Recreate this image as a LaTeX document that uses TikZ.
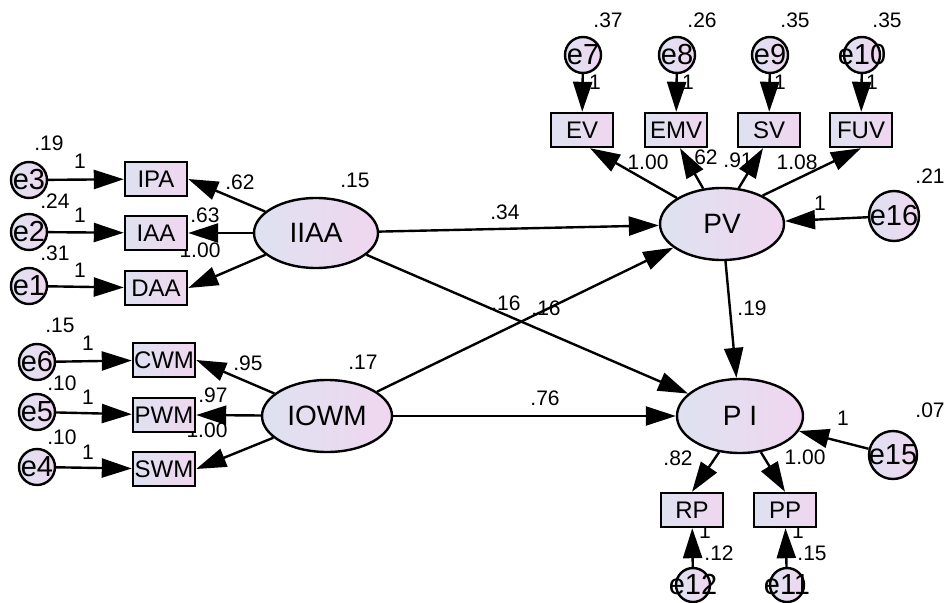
\documentclass[tikz,border=0pt]{standalone}
\usepackage{fontspec}
\setmainfont{Liberation Sans}
\usetikzlibrary{arrows.meta,shapes.geometric}
\definecolor{shL}{RGB}{222,226,240}
\definecolor{shR}{RGB}{240,214,240}
\tikzset{
  every picture/.style={x=1pt,y=-1pt},
  lnk/.style={line width=2.4pt, -{Triangle[length=30pt,width=19pt]}},
  shd/.style={left color=shL, right color=shR, draw=black, line width=2.4pt},
  latent/.style={shd, ellipse, inner sep=0pt, font=\fontsize{28}{28}\selectfont},
  obsbox/.style={shd, rectangle, inner sep=0pt, minimum width=62pt, minimum height=34pt, font=\fontsize{24}{24}\selectfont},
  lbl/.style={inner sep=0pt, font=\fontsize{21}{21}\selectfont},
}
\newcommand{\enode}[4]{\node[shd, circle, inner sep=0pt, minimum size=#4] (#1) at (#2,#3) {};\node[inner sep=0pt, font=\fontsize{29}{29}\selectfont] at (#2,#3) {#1};}
\begin{document}
\begin{tikzpicture}
\useasboundingbox[fill=white] (0,0) rectangle (944,602);
% labels first (lines drawn over)
\node[lbl] at (49,143) {.19};
\node[lbl] at (80,161) {1};
\node[lbl] at (55,201) {.24};
\node[lbl] at (80,215) {1};
\node[lbl] at (55,253) {.31};
\node[lbl] at (80,270) {1};
\node[lbl] at (240,182) {.62};
\node[lbl] at (205,215) {.63};
\node[lbl] at (200,250) {1.00};
\node[lbl] at (355,180) {.15};
\node[lbl] at (60,325) {.15};
\node[lbl] at (88,343) {1};
\node[lbl] at (62,383) {.10};
\node[lbl] at (88,397) {1};
\node[lbl] at (62,437) {.10};
\node[lbl] at (88,452) {1};
\node[lbl] at (248,363) {.95};
\node[lbl] at (213,395) {.97};
\node[lbl] at (207,430) {1.00};
\node[lbl] at (363,362) {.17};
\node[lbl] at (608,20) {.37};
\node[lbl] at (702,20) {.26};
\node[lbl] at (795,20) {.35};
\node[lbl] at (887,20) {.35};
\node[lbl] at (595,82) {1};
\node[lbl] at (688,82) {1};
\node[lbl] at (780,82) {1};
\node[lbl] at (872,82) {1};
\node[lbl] at (648,162) {1.00};
\node[lbl] at (703,157) {.62};
\node[lbl] at (738,160) {.91};
\node[lbl] at (797,162) {1.08};
\node[lbl] at (930,176) {.21};
\node[lbl] at (820,203) {1};
\node[lbl] at (752,308) {.19};
\node[lbl] at (930,410) {.07};
\node[lbl] at (843,418) {1};
\node[lbl] at (678,458) {.82};
\node[lbl] at (805,457) {1.00};
\node[lbl] at (705,531) {1};
\node[lbl] at (719,553) {.12};
\node[lbl] at (798,531) {1};
\node[lbl] at (812,553) {.15};
\node[lbl] at (505,212) {.34};
\node[lbl] at (506,303) {.16};
\node[lbl] at (546,308) {.16};
\node[lbl] at (545,398) {.76};
% latent variables
\node[latent, minimum width=124pt, minimum height=70pt] (IIAA) at (316,233) {IIAA};
\node[latent, minimum width=130pt, minimum height=72pt] (IOWM) at (327,416) {IOWM};
\node[latent, minimum width=124pt, minimum height=72pt] (PV) at (722,224) {PV};
\node[latent, minimum width=126pt, minimum height=74pt] (PI) at (740,416) {P I};
% observed
\node[obsbox] (IPA) at (156,179) {IPA};
\node[obsbox] (IAA) at (156,233) {IAA};
\node[obsbox] (DAA) at (156,288) {DAA};
\node[obsbox] (CWM) at (164,360) {CWM};
\node[obsbox] (PWM) at (164,415) {PWM};
\node[obsbox] (SWM) at (164,469) {SWM};
\node[obsbox] (EV) at (582,130) {EV};
\node[obsbox] (EMV) at (676,130) {EMV};
\node[obsbox] (SV) at (769,130) {SV};
\node[obsbox] (FUV) at (861,130) {FUV};
\node[obsbox] (RP) at (692,510) {RP};
\node[obsbox] (PP) at (785,510) {PP};
% errors
\enode{e3}{29}{180}{36pt}
\enode{e2}{29}{232}{36pt}
\enode{e1}{29}{286}{36pt}
\enode{e6}{37}{362}{36pt}
\enode{e5}{37}{412}{36pt}
\enode{e4}{37}{467}{36pt}
\enode{e7}{583}{55}{36pt}
\enode{e8}{677}{55}{36pt}
\enode{e9}{770}{55}{36pt}
\enode{e10}{862}{55}{36pt}
\enode{e16}{894}{216}{50pt}
\enode{e15}{893}{455}{48pt}
\enode{e12}{693}{585}{34pt}
\enode{e11}{787}{585}{34pt}
% connectors
\draw[lnk] (e3) -- (IPA);
\draw[lnk] (e2) -- (IAA);
\draw[lnk] (e1) -- (DAA);
\draw[lnk] (e6) -- (CWM);
\draw[lnk] (e5) -- (PWM);
\draw[lnk] (e4) -- (SWM);
\draw[lnk] (IIAA) -- (IPA.east);
\draw[lnk] (IIAA) -- (IAA.east);
\draw[lnk] (IIAA) -- (DAA.east);
\draw[lnk] (IOWM) -- (CWM.east);
\draw[lnk] (IOWM) -- (PWM.east);
\draw[lnk] (IOWM) -- (SWM.east);
\draw[lnk] (e7) -- (EV);
\draw[lnk] (e8) -- (EMV);
\draw[lnk] (e9) -- (SV);
\draw[lnk] (e10) -- (FUV);
\draw[lnk] (PV.150) -- ([xshift=8pt]EV.south);
\draw[lnk] (PV.118) -- ([xshift=4pt]EMV.south);
\draw[lnk] (PV.65) -- ([xshift=-6pt]SV.south);
\draw[lnk] (PV.35) -- (FUV.south);
\draw[lnk] (IIAA) -- (PV);
\draw[lnk] (IIAA) -- (PI);
\draw[lnk] (IOWM) -- (PV);
\draw[lnk] (IOWM) -- (PI);
\draw[lnk] (PV) -- (PI);
\draw[lnk] (e16) -- (PV);
\draw[lnk] (e15) -- (PI);
\draw[lnk] (PI.240) -- (RP.north);
\draw[lnk] (PI.300) -- (PP.north);
\draw[lnk] (e12) -- (RP);
\draw[lnk] (e11) -- (PP);
\end{tikzpicture}
\end{document}
